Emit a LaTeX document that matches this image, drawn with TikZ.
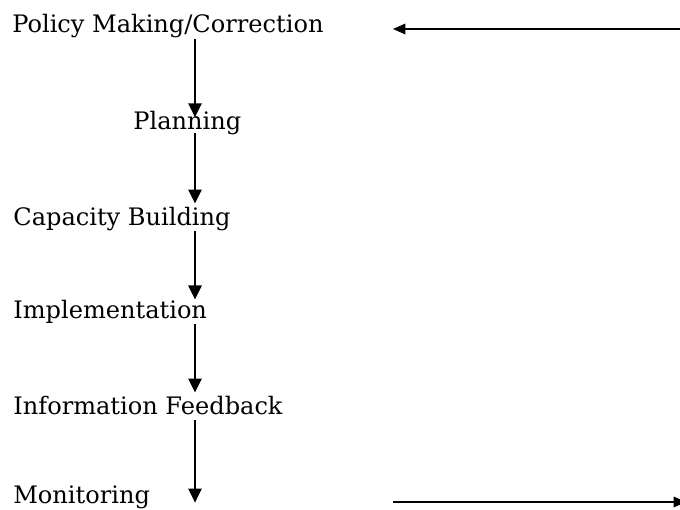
\documentclass[tikz,border=0pt]{standalone}
\usepackage{fontspec}
\setmainfont{DejaVu Serif}
\usetikzlibrary{arrows.meta}

\begin{document}
\begin{tikzpicture}[x=0.02cm,y=-0.02cm,>={Triangle[width=7.5pt,length=8pt]},
  stage/.style={anchor=base west,inner sep=0pt,text height=12pt,text depth=3.4pt,
    font=\fontsize{13.7}{16}\selectfont},
  flow/.style={->,line width=1.15pt},
  loopline/.style={->,line width=0.85pt,>={Triangle[width=6pt,length=7pt]}}]
  \useasboundingbox (0,0) rectangle (680,510);
  % --- stages, top to bottom ---
  \node[stage] (policy)    at (12,33)   {Policy Making/Correction};
  \node[stage] (plan)      at (133,130) {Planning};
  \node[stage] (capacity)  at (13,225)  {Capacity Building};
  \node[stage] (implement) at (13,318)  {Implementation};
  \node[stage] (feedback)  at (13,414)  {Information Feedback};
  \node[stage] (monitor)   at (13,503)  {Monitoring};
  % --- downward flow, one column ---
  \coordinate (col) at (195,0);
  \draw[flow,shorten >=-5pt] (policy.south -| col) -- (plan.north -| col);
  \draw[flow,shorten <=-1.7pt] (plan.south -| col) -- (capacity.north -| col);
  \draw[flow,shorten >=-1.7pt] (capacity.south -| col) -- (implement.north -| col);
  \draw[flow] (implement.south -| col) -- (feedback.north -| col);
  \draw[flow,shorten >=-12pt] (feedback.south -| col) -- (monitor.north -| col);
  % --- loop back to policy (ends run off the page) ---
  \coordinate (backin)  at (684,29);
  \coordinate (backtip) at (393,29);
  \coordinate (outfrom) at (393,502);
  \coordinate (outto)   at (686,502);
  \draw[loopline] (backin) -- (backtip);
  \draw[loopline,line width=0.75pt] (outfrom) -- (outto);
\end{tikzpicture}
\end{document}
